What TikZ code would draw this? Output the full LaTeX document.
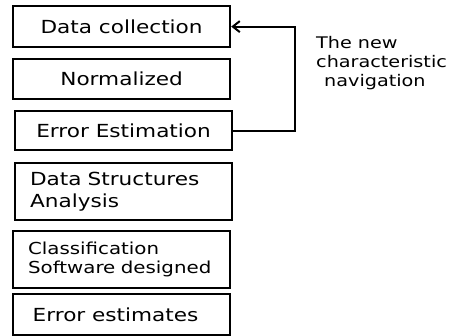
\documentclass[tikz,border=0pt]{standalone}
\usepackage{fontspec}
\setmainfont[FakeStretch=1.2]{DejaVu Sans}
\usetikzlibrary{arrows.meta}

\tikzset{
  stepbox/.style={draw, line width=2.2pt, anchor=north west, inner sep=0pt,
    minimum width=217pt, font=\fontsize{18}{21.5}\selectfont},
  twoline/.style={stepbox, align=left, text width=187pt, inner xsep=15pt},
  feedback/.style={line width=2pt, -{Straight Barb[length=7pt,width=11pt]}}
}

\begin{document}
\begin{tikzpicture}[x=1pt, y=-1pt]
\useasboundingbox (0,0) rectangle (456,336);

% steps
    \node[stepbox, minimum height=41pt] (coll) at (12,5) {Data collection};
    \node[stepbox, minimum height=40pt] (norm) at (12,58) {Normalized};
    \node[stepbox, minimum height=39pt] (errest) at (14,110) {Error Estimation};
    \node[twoline, minimum height=57pt] (struct) at (14,162) {Data Structures\\Analysis};
    \node[twoline, minimum height=57pt, font=\fontsize{16.5}{19.5}\selectfont] (classif) at (12,230)
        {Classification\\Software designed};
    \node[stepbox, minimum height=41pt] (errests) at (12,293) {\hspace*{-12pt}Error estimates};

% feedback loop
    \draw[feedback] (errest.east) -- ++(62,0) |- (coll.east);
    \node[anchor=north west, align=left, inner sep=0pt,
          font=\fontsize{16}{19}\selectfont] (navlabel) at (316,36)
          {The new\\characteristic\\\hspace*{8pt}navigation};

\end{tikzpicture}
\end{document}
